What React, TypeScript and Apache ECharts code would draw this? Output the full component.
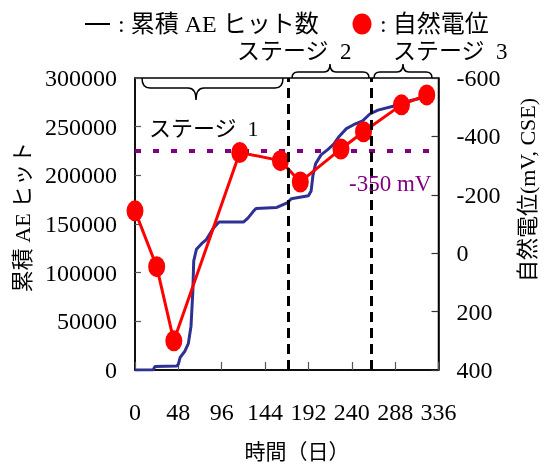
import React, { useEffect, useRef } from "react";
import * as echarts from "echarts";

// ---- data ----
const xTicks = [0, 48, 96, 144, 192, 240, 288, 336];
const aeDays = [0, 20, 22, 46, 48, 50, 55, 59, 62, 64, 65, 68, 74, 79, 87, 93, 120, 125, 131, 134, 157, 169, 173, 192, 195, 197, 200, 206, 214, 220, 226, 234, 242, 252, 260, 269, 290, 301, 315, 322, 329];
const aeHits = [0, 0, 3500, 4000, 6000, 13000, 19000, 27000, 45000, 80000, 112000, 124000, 130000, 134000, 146000, 152000, 152000, 156000, 163000, 166000, 167000, 172000, 176000, 179000, 184000, 200000, 212000, 221000, 227000, 232000, 240000, 248000, 252000, 256000, 263000, 267000, 272000, 276000, 279000, 283000, 288000];
const potDays = [0, 24, 43, 116, 161, 183, 228, 253, 295, 323];
const potValues = [-145, 46, 300, -345, -317, -244, -357, -416, -508, -542];
const stageBoundaries = [170, 262];
const threshold = -350;
const leftTicks = [0, 50000, 100000, 150000, 200000, 250000, 300000];
const rightTicks = [-600, -400, -200, 0, 200, 400];

const SERIF = "'Liberation Serif', 'Noto Sans CJK JP', serif";

function bracePath(x1: number, x2: number, xc: number, yEnd: number, yMid: number, yTip: number, r: number) {
  return `M${x1},${yEnd} Q${x1},${yMid} ${x1 + r},${yMid} L${xc - r},${yMid} Q${xc},${yMid} ${xc},${yTip} Q${xc},${yMid} ${xc + r},${yMid} L${x2 - r},${yMid} Q${x2},${yMid} ${x2},${yEnd}`;
}

let registered = false;
function registerBraces() {
  if (registered) return;
  registered = true;
  echarts.graphic.registerShape("brace1", echarts.graphic.extendPath(bracePath(142, 283, 196, 78, 88, 100, 8), {}));
  echarts.graphic.registerShape("brace2", echarts.graphic.extendPath(bracePath(292, 369, 330, 78, 72, 64, 6), {}));
  echarts.graphic.registerShape("brace3", echarts.graphic.extendPath(bracePath(374, 432, 403, 78, 72, 64, 6), {}));
}

const ellipseSymbol = "path://M0,10a10,10 0 1,0 20,0a10,10 0 1,0 -20,0";

export default function App() {
  const ref = useRef<HTMLDivElement>(null);
  useEffect(() => {
    if (!ref.current) return;
    registerBraces();
    const chart = echarts.init(ref.current, undefined, { renderer: "svg" });
    const braceStyle = { stroke: "#000", fill: "none", lineWidth: 1.5 };
    const txt = (x: number, y: number, text: string, size: number, extra: any = {}) => ({
      type: "text",
      x,
      y,
      z: 10,
      ...extra,
      style: {
        text,
        fontSize: size,
        fontFamily: SERIF,
        fill: "#000",
        align: "left",
        verticalAlign: "middle",
        ...(extra.style || {}),
      },
    });
    chart.setOption({
      animation: false,
      grid: {
        left: 135,
        right: 108.5,
        top: 78,
        bottom: 95,
        show: true,
        borderColor: "#000",
        borderWidth: 1.5,
      },
      xAxis: {
        type: "value",
        min: xTicks[0],
        max: xTicks[xTicks.length - 1],
        interval: 48,
        axisLine: { lineStyle: { color: "#000", width: 1.5 } },
        axisTick: { inside: true, length: 8, lineStyle: { color: "#555", width: 1.2 } },
        axisLabel: { fontFamily: SERIF, fontSize: 24, color: "#000", margin: 30 },
        splitLine: { show: false },
      },
      yAxis: [
        {
          type: "value",
          min: leftTicks[0],
          max: leftTicks[leftTicks.length - 1],
          interval: 50000,
          axisLine: { show: true, lineStyle: { color: "#000", width: 1.5 } },
          axisTick: { show: true, inside: true, length: 6, lineStyle: { color: "#555", width: 1.2 } },
          axisLabel: {
            fontFamily: SERIF,
            fontSize: 24,
            color: "#000",
            margin: 18,
            formatter: (v: number) => String(v),
          },
          splitLine: { show: false },
        },
        {
          type: "value",
          inverse: true,
          min: rightTicks[0],
          max: rightTicks[rightTicks.length - 1],
          interval: 200,
          position: "right",
          axisLine: { show: true, lineStyle: { color: "#000", width: 1.5 } },
          axisTick: { show: true, inside: true, length: 7, lineStyle: { color: "#333", width: 1.2 } },
          axisLabel: {
            fontFamily: SERIF,
            fontSize: 24,
            color: "#000",
            margin: 18,
            formatter: (v: number) => String(v),
          },
          splitLine: { show: false },
        },
      ],
      series: [
        {
          name: "累積AEヒット数",
          type: "line",
          yAxisIndex: 0,
          data: aeDays.map((d, i) => [d, aeHits[i]]),
          showSymbol: false,
          symbol: "none",
          lineStyle: { color: "#2E3192", width: 3 },
          z: 2,
          markLine: {
            silent: true,
            symbol: ["none", "none"],
            label: { show: false },
            lineStyle: { color: "#000", width: 3, type: [10, 6] },
            data: stageBoundaries.map((d) => ({ xAxis: d })),
          },
        },
        {
          name: "自然電位",
          type: "line",
          yAxisIndex: 1,
          data: potDays.map((d, i) => [d, potValues[i]]),
          symbol: ellipseSymbol,
          symbolSize: [17, 21],
          itemStyle: { color: "#FF0000" },
          lineStyle: { color: "#FF0000", width: 3 },
          z: 3,
          markLine: {
            silent: true,
            z: 1,
            symbol: ["none", "none"],
            label: { show: false },
            lineStyle: { color: "#800080", width: 4, type: [6, 12] },
            data: [{ yAxis: threshold }],
          },
        },
      ],
      graphic: [
        { type: "brace1", x: 0, y: 0, z: 10, style: braceStyle },
        { type: "brace2", x: 0, y: 0, z: 10, style: braceStyle },
        { type: "brace3", x: 0, y: 0, z: 10, style: braceStyle },
        { type: "line", z: 10, shape: { x1: 85, y1: 24, x2: 110, y2: 24 }, style: { stroke: "#000", lineWidth: 2 } },
        txt(118, 24, ": 累積 AE ヒット数", 24),
        { type: "ellipse", z: 10, shape: { cx: 362, cy: 24, rx: 9.5, ry: 10.5 }, style: { fill: "#FF0000" } },
        txt(380, 24, ": 自然電位", 24),
        txt(237, 51, "ステージ\u20022", 23),
        txt(393, 51, "ステージ\u20023", 23),
        txt(149, 128, "ステージ\u20021", 22),
        txt(349, 183, "-350 mV", 23, { style: { fill: "#800080" } }),
        txt(297, 452, "時間（日）", 21, { style: { align: "center" } }),
        txt(22, 217, "累積 AE ヒット", 22, { rotation: Math.PI / 2, style: { align: "center" } }),
        txt(527, 190, "自然電位(mV, CSE)", 22, { rotation: Math.PI / 2, style: { align: "center" } }),
      ],
    });
    return () => chart.dispose();
  }, []);
  return <div ref={ref} style={{ position: "fixed", left: 0, top: 0, width: 547, height: 465 }} />;
}
